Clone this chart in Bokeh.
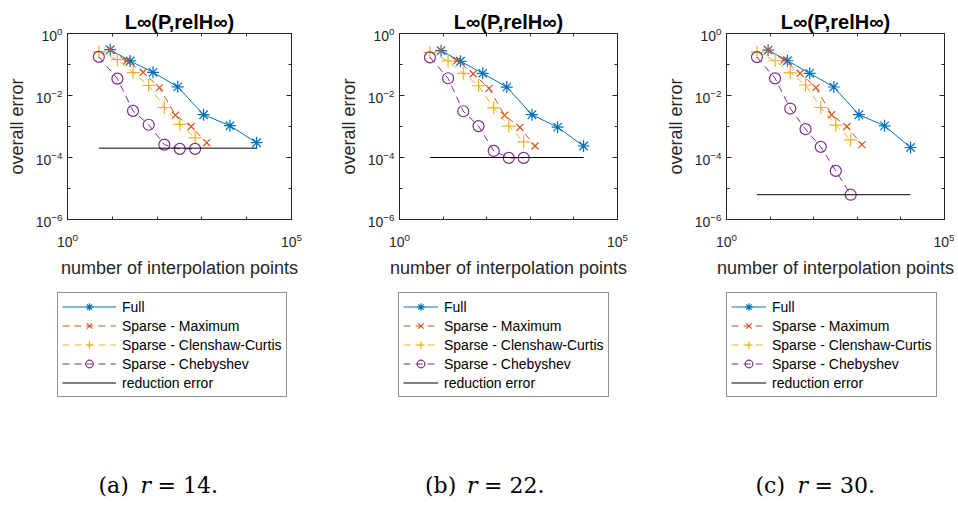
from bokeh.plotting import figure
from bokeh.models import (LogAxis, FixedTicker, Label, Legend, LegendItem,
                          ColumnDataSource, Range1d, Title)
from bokeh.layouts import row, column
from bokeh.embed import file_html
from bokeh.resources import INLINE

# ---------------- data ----------------
n_full = [9, 25, 81, 289, 1089, 4225, 16641]
n_max = [9, 21, 49, 113, 257, 577, 1281]
n_cc = [5, 13, 29, 65, 145, 321, 705]
n_cheb = [5, 13, 29, 65, 145, 321, 705]

err_full_r14 = [0.30, 0.13, 0.056, 0.019, 0.0024, 0.00106, 0.0003]
err_max_r14 = [0.30, 0.13, 0.056, 0.018, 0.0023, 0.0010, 0.0003]
err_cc_r14 = [0.255, 0.144, 0.055, 0.021, 0.0041, 0.00117, 0.00043]
err_cheb_r14 = [0.176, 0.035, 0.0032, 0.00114, 0.00026, 0.00019, 0.00019]
red_r14 = 2.0e-4

err_full_r22 = [0.28, 0.127, 0.052, 0.0187, 0.0024, 0.00095, 0.000235]
err_max_r22 = [0.28, 0.133, 0.050, 0.017, 0.0023, 0.00093, 0.000235]
err_cc_r22 = [0.246, 0.13, 0.052, 0.0206, 0.0040, 0.00103, 0.00032]
err_cheb_r22 = [0.17, 0.036, 0.0031, 0.00103, 0.000163, 0.000097, 0.000097]
red_r22 = 1.0e-4

err_full_r30 = [0.29, 0.132, 0.052, 0.0188, 0.0024, 0.00105, 0.00021]
err_max_r30 = [0.29, 0.138, 0.052, 0.0179, 0.0024, 0.0010, 0.00026]
err_cc_r30 = [0.25, 0.132, 0.054, 0.0218, 0.0041, 0.0011, 0.00037]
err_cheb_r30 = [0.173, 0.0357, 0.0038, 0.00082, 0.00022, 3.7e-5, 6.3e-6]
red_r30 = 6.3e-6

plot_title = "L\u221e(P,relH\u221e)"
panel_r = ["14.", "22.", "30."]
panel_tags = ["(a)", "(b)", "(c)"]
series_labels = ["Full", "Sparse - Maximum", "Sparse - Clenshaw-Curtis",
                 "Sparse - Chebyshev", "reduction error"]
x_major = [1, 1e5]
x_minor = [10, 100, 1000, 10000]
y_major = [1, 1e-2, 1e-4, 1e-6]
y_minor = [1e-1, 1e-3, 1e-5]

# ---------------- style ----------------
AX = "#262626"
FONT = "Liberation Sans"
SERIF = "DejaVu Serif"
BLUE = "#0072BD"
ORANGE = "#D95319"
YELLOW = "#EDB120"
PURPLE = "#7E2F8E"
DASH = "7 5"

COL_W = [335, 327, 292]
LEFT = [67, 59, 60]
RIGHT = [44, 45, 10]
TITLE_OFF = [0, -4, -3]
LEGEND_X = [57, 63, 64]
GLYPH_W = [54, 35, 35]
CAP_X = [98, 89.5, 93]

PLOT_TOP, FRAME_H, PLOT_BOTTOM = 33, 186, 66
LEG_H, CAP_H = 125, 90


def style_axis(ax, labels=True):
    ax.axis_line_color = AX
    ax.major_tick_line_color = AX
    ax.minor_tick_line_color = AX
    ax.major_tick_in = 5
    ax.major_tick_out = 0
    ax.minor_tick_in = 3
    ax.minor_tick_out = 0
    if labels:
        ax.major_label_text_font = FONT
        ax.major_label_text_font_size = "14px"
        ax.major_label_text_color = AX
        ax.axis_label_text_font = FONT
        ax.axis_label_text_font_size = "18px"
        ax.axis_label_text_font_style = "normal"
        ax.axis_label_text_color = AX
    else:
        ax.major_label_text_font_size = "2px"
        ax.major_label_text_alpha = 0
        ax.major_label_standoff = 0


def blank(width, height):
    f = figure(width=width, height=height, frame_width=width, frame_height=height,
               x_range=Range1d(0, width), y_range=Range1d(0, height),
               output_backend="svg", title=None,
               toolbar_location=None, x_axis_location=None, y_axis_location=None,
               min_border=0, min_border_left=0, min_border_right=0,
               min_border_top=0, min_border_bottom=0)
    f.outline_line_color = None
    f.xgrid.visible = False
    f.ygrid.visible = False
    return f


def add_label(p, x, y, text, size, style="normal", font=FONT, color="black"):
    p.add_layout(Label(x=x, y=y, text=text, text_font=font, text_font_size=size,
                       text_font_style=style, text_color=color,
                       text_baseline="alphabetic", text_align="left"))


def sources(e_full, e_max, e_cc, e_cheb, red):
    return dict(
        full=ColumnDataSource(dict(n=n_full, e=e_full)),
        max=ColumnDataSource(dict(n=n_max, e=e_max)),
        cc=ColumnDataSource(dict(n=n_cc, e=e_cc)),
        cheb=ColumnDataSource(dict(n=n_cheb, e=e_cheb)),
        red=ColumnDataSource(dict(n=[min(n_cc), max(n_full)], e=[red, red])))


def draw_series(p, src, visible=True):
    r = {}
    r["lf"] = p.line("n", "e", source=src["full"], line_color=BLUE, line_width=1)
    r["mf"] = p.scatter("n", "e", source=src["full"], marker="asterisk", size=12,
                        line_color=BLUE, line_width=1.2)
    r["lm"] = p.line("n", "e", source=src["max"], line_color=ORANGE, line_width=1,
                     line_dash=DASH)
    r["mm"] = p.scatter("n", "e", source=src["max"], marker="x", size=10,
                        line_color=ORANGE, line_width=1.2)
    r["lc"] = p.line("n", "e", source=src["cc"], line_color=YELLOW, line_width=1,
                     line_dash=DASH)
    r["mc"] = p.scatter("n", "e", source=src["cc"], marker="cross", size=13,
                        line_color=YELLOW, line_width=1.2)
    r["lb"] = p.line("n", "e", source=src["cheb"], line_color=PURPLE, line_width=1,
                     line_dash=DASH)
    r["mb"] = p.scatter("n", "e", source=src["cheb"], marker="circle", size=11,
                        line_color=PURPLE, fill_color=None, line_width=1.2)
    r["lr"] = p.line("n", "e", source=src["red"], line_color="black", line_width=1)
    for v in r.values():
        v.visible = visible
    return r


def plot_fig(k, src):
    p = figure(width=COL_W[k], height=PLOT_TOP + FRAME_H + PLOT_BOTTOM,
               x_axis_type="log", y_axis_type="log",
               x_range=Range1d(1, 1e5), y_range=Range1d(1e-6, 1),
               output_backend="svg", toolbar_location=None, title=None,
               min_border_left=LEFT[k], min_border_right=RIGHT[k],
               min_border_top=PLOT_TOP, min_border_bottom=PLOT_BOTTOM,
               background_fill_color="white", border_fill_color="white")
    p.xgrid.visible = False
    p.ygrid.visible = False
    p.outline_line_color = AX
    p.outline_line_width = 1

    p.xaxis.ticker = FixedTicker(ticks=x_major, minor_ticks=x_minor)
    p.yaxis.ticker = FixedTicker(ticks=y_major, minor_ticks=y_minor)
    p.xaxis.axis_label = "number of interpolation points"
    p.yaxis.axis_label = "overall error"
    style_axis(p.xaxis[0])
    style_axis(p.yaxis[0])
    p.xaxis.major_label_standoff = 13
    p.xaxis.axis_label_standoff = 8
    p.yaxis.major_label_standoff = 5
    p.yaxis.axis_label_standoff = 6

    top = LogAxis(ticker=FixedTicker(ticks=x_major, minor_ticks=x_minor))
    style_axis(top, labels=False)
    p.add_layout(top, "above")
    rgt = LogAxis(ticker=FixedTicker(ticks=y_major, minor_ticks=y_minor))
    style_axis(rgt, labels=False)
    p.add_layout(rgt, "right")

    p.add_layout(Title(text=plot_title, align="center", offset=TITLE_OFF[k],
                       text_font=FONT, text_font_size="20px", text_font_style="bold",
                       text_color="black", standoff=2), "above")

    draw_series(p, src)
    return p


def legend_fig(k, src):
    f = blank(COL_W[k], LEG_H)
    r = draw_series(f, src, visible=False)
    items = [LegendItem(label=series_labels[0], renderers=[r["lf"], r["mf"]]),
             LegendItem(label=series_labels[1], renderers=[r["lm"], r["mm"]]),
             LegendItem(label=series_labels[2], renderers=[r["lc"], r["mc"]]),
             LegendItem(label=series_labels[3], renderers=[r["lb"], r["mb"]]),
             LegendItem(label=series_labels[4], renderers=[r["lr"]])]
    leg = Legend(items=items, location=(LEGEND_X[k], 13), margin=0,
                 padding=4, spacing=0, glyph_width=GLYPH_W[k], glyph_height=19,
                 label_height=19, label_standoff=6,
                 label_text_font=FONT, label_text_font_size="14px",
                 label_text_color="black",
                 border_line_color=AX, border_line_width=1,
                 background_fill_color="white", background_fill_alpha=1,
                 inactive_fill_alpha=0)
    f.add_layout(leg)
    return f


def caption_fig(k):
    f = blank(COL_W[k], CAP_H)
    c0 = CAP_X[k]
    cy = 15
    add_label(f, c0, cy, panel_tags[k], "22px", font=SERIF)
    add_label(f, c0 + 42, cy, "r", "22px", "italic", font=SERIF)
    add_label(f, c0 + 59, cy, "= " + panel_r[k], "22px", font=SERIF)
    return f


errs = [(err_full_r14, err_max_r14, err_cc_r14, err_cheb_r14, red_r14),
        (err_full_r22, err_max_r22, err_cc_r22, err_cheb_r22, red_r22),
        (err_full_r30, err_max_r30, err_cc_r30, err_cheb_r30, red_r30)]

plots = [plot_fig(k, sources(*errs[k])) for k in range(3)]
legends = [legend_fig(k, sources(*errs[k])) for k in range(3)]
captions = [caption_fig(k) for k in range(3)]

layout = column(row(*plots), row(*legends), row(*captions))
open("out.html", "w").write(file_html(layout, INLINE))
